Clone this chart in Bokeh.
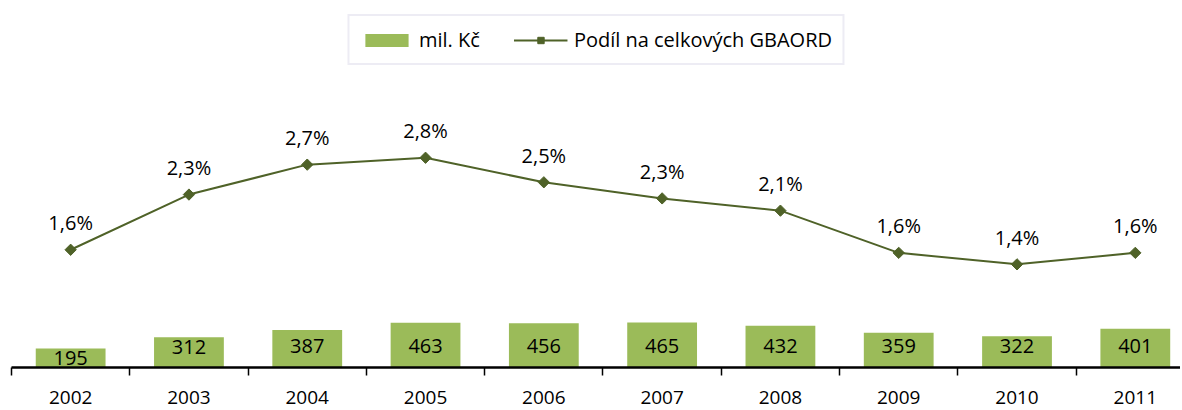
import numpy as np
from bokeh.plotting import figure
from bokeh.models import (Range1d, LinearAxis, FixedTicker, ColumnDataSource,
                          Legend, LegendItem)
from bokeh.core.properties import value
from bokeh.embed import file_html
from bokeh.resources import INLINE

years = ["2002", "2003", "2004", "2005", "2006", "2007", "2008", "2009", "2010", "2011"]
mil_kc = [195, 312, 387, 463, 456, 465, 432, 359, 322, 401]
podil = [1.60, 2.32, 2.71, 2.80, 2.48, 2.27, 2.11, 1.56, 1.41, 1.56]

FONT = value("Open Sans")
BAR = "#9BBB59"
LINE = "#4F6228"

x = list(range(len(years)))
src = ColumnDataSource(dict(
    x=x,
    mil=mil_kc,
    mil_lbl=[str(v) for v in mil_kc],
    mil_y=list(np.minimum(np.array(mil_kc) - 100, 220)),
    pct=podil,
    pct_lbl=[("%.1f" % v).replace(".", ",") + "%" for v in podil],
))

p = figure(frame_width=1169, frame_height=355, output_backend="svg", toolbar_location=None,
           x_range=Range1d(-0.5, 9.382), y_range=Range1d(0, 3667),
           x_axis_location=None, y_axis_location=None,
           min_border_left=11, min_border_right=0, min_border_top=12, min_border_bottom=43)
p.extra_y_ranges = {"pct": Range1d(0.065, 4.694)}
p.outline_line_color = None
p.xgrid.visible = False
p.ygrid.visible = False

ax = LinearAxis(ticker=FixedTicker(ticks=x, minor_ticks=[i - 0.5 for i in range(len(years) + 1)]))
ax.major_label_overrides = {i: y for i, y in enumerate(years)}
ax.major_tick_out = 0
ax.major_tick_in = 0
ax.minor_tick_out = 8
ax.minor_tick_in = 0
ax.minor_tick_line_color = "black"
ax.minor_tick_line_width = 1.5
ax.axis_line_color = "black"
ax.axis_line_width = 2.5
ax.major_label_text_font = "Open Sans"
ax.major_label_text_font_size = "19px"
ax.major_label_text_color = "black"
ax.major_label_standoff = 15
p.add_layout(ax, "below")

bars = p.vbar(x="x", top="mil", width=0.59, source=src, fill_color=BAR, line_color=None)
p.text(x="x", y="mil_y", text="mil_lbl", source=src, text_font=FONT, text_font_size="20px",
       text_align="center", text_baseline="middle", text_color="black")

ln = p.line(x="x", y="pct", source=src, y_range_name="pct", line_color=LINE, line_width=2)
mk = p.scatter(x="x", y="pct", source=src, y_range_name="pct", marker="square", size=8,
               angle=np.pi / 4, fill_color=LINE, line_color=LINE)
p.text(x="x", y="pct", text="pct_lbl", source=src, y_range_name="pct", y_offset=-27,
       text_font=FONT, text_font_size="20px", text_align="center", text_baseline="middle",
       text_color="black")

legend = Legend(items=[LegendItem(label="mil. Kč", renderers=[bars]),
                       LegendItem(label="Podíl na celkových GBAORD", renderers=[ln, mk])],
                orientation="horizontal", location="top_center",
                glyph_width=54, glyph_height=16, label_standoff=6, spacing=34,
                padding=10, margin=2,
                label_text_font="Open Sans", label_text_font_size="20px",
                label_text_color="black", border_line_color="#DCDAEA", border_line_width=2,
                background_fill_alpha=1)
p.add_layout(legend, "center")

open("out.html", "w").write(file_html(p, INLINE))
